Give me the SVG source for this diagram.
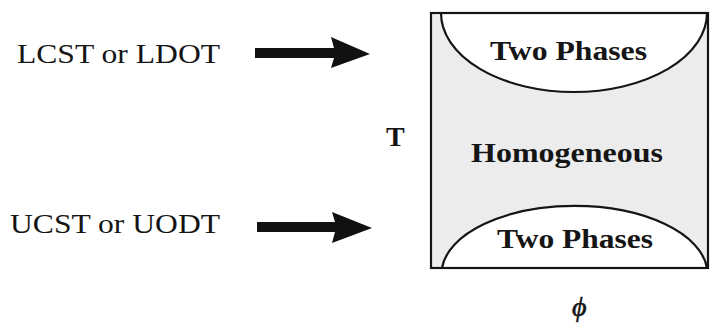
<svg xmlns="http://www.w3.org/2000/svg" width="711" height="324" viewBox="0 0 711 324">
<style>
.lbl{font-family:"Liberation Serif","Times New Roman",serif;font-size:28px;fill:#151515}
.b{font-weight:bold}
.ln{fill:none;stroke:#151515;stroke-width:2.2}
</style>
<defs>
<filter id="speck" x="0" y="0" width="1" height="1">
<feTurbulence type="fractalNoise" baseFrequency="0.9" numOctaves="1" seed="3" result="n"/>
<feColorMatrix in="n" type="matrix" values="0 0 0 0 0.85  0 0 0 0 0.85  0 0 0 0 0.85  0 0 0 -2.2 1.25" result="m"/>
<feComposite in="m" in2="SourceGraphic" operator="in"/>
</filter>
</defs>
<rect width="711" height="324" fill="#fff"/>
<g id="diagram-box">
<rect x="431" y="13" width="277" height="255" fill="#ececec"/>
<rect x="431" y="13" width="277" height="255" fill="#fff" filter="url(#speck)" opacity="0.9"/>
<path d="M441,13 A133,79 0 0 0 707,13 Z" fill="#fff"/>
<path d="M442,268 A133,68 0 0 1 707,268 Z" fill="#fff"/>
<path class="ln" d="M441,13 A133,79 0 0 0 707,13"/>
<path class="ln" d="M442,268 A133,68 0 0 1 707,268"/>
<rect class="ln" x="431" y="13" width="277" height="255"/>
</g>
<g id="region-top">
<text class="lbl b" x="490" y="60" textLength="157" lengthAdjust="spacingAndGlyphs">Two Phases</text>
</g>
<g id="region-mid">
<text class="lbl b" x="471" y="162" textLength="192" lengthAdjust="spacingAndGlyphs">Homogeneous</text>
</g>
<g id="region-bottom">
<text class="lbl b" x="497" y="248" textLength="156" lengthAdjust="spacingAndGlyphs">Two Phases</text>
</g>
<g id="axis-T">
<text class="lbl b" x="386" y="146" font-size="30">T</text>
</g>
<g id="axis-phi">
<text class="lbl" x="572" y="316" font-size="42" font-style="italic" stroke="#151515" stroke-width="0.6">ϕ</text>
</g>
<g id="label-lcst">
<text class="lbl" x="17" y="63" textLength="203" lengthAdjust="spacingAndGlyphs">LCST or LDOT</text>
</g>
<g id="label-ucst">
<text class="lbl" x="10" y="233" textLength="210" lengthAdjust="spacingAndGlyphs">UCST or UODT</text>
</g>
<g id="connectors" fill="#111">
<path d="M255,48 L334,48 L331,37 L370,54 L331,68 L334,58 L255,58 Z"/>
<path d="M257,222 L335,222 L332,212 L372,228 L332,243 L335,232 L257,232 Z"/>
</g>
</svg>
